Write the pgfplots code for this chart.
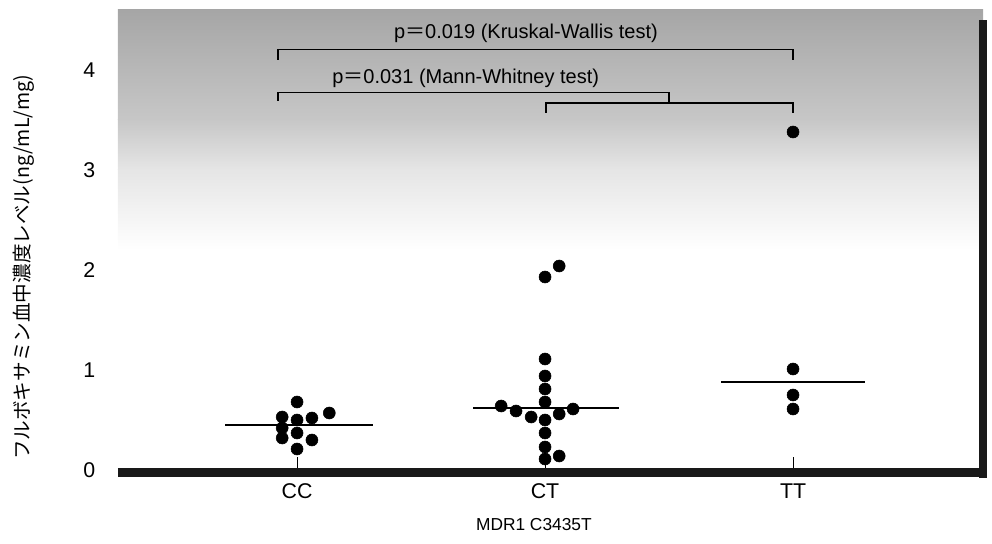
\documentclass[border=0pt]{standalone}
\usepackage{fontspec}
\setmainfont{Liberation Sans}
\newfontfamily\jp{Noto Sans CJK JP}
\usepackage{pgfplots}
\pgfplotsset{compat=1.18}
\begin{document}
\begin{tikzpicture}
\begin{axis}[
  scale only axis, width=648.75pt, height=345pt,
  xmin=0.278, xmax=3.766, ymin=0, ymax=4.6,
  axis x line*=bottom, axis y line*=left,
  x axis line style={draw=none}, y axis line style={draw=none},
  xtick={1,2,3}, xticklabels={CC,CT,TT},
  ytick={0,1,2,3,4},
  tick align=inside,
  major tick length=10pt,
  xtick style={black, line width=0.8pt},
  ytick style={draw=none},
  /pgf/number format/assume math mode=true,
  ticklabel style={font=\fontsize{16}{19}\selectfont},
  xticklabel style={yshift=-6.5pt},
  yticklabel style={xshift=-13.5pt},
  clip=false,
]
% scan-like grey at top
\shade[top color=black!35, bottom color=black!22, draw=none] (rel axis cs:0,1) rectangle (axis cs:3.766,3.5);
\shade[top color=black!22, bottom color=black!10, draw=none] (axis cs:0.278,3.5) rectangle (axis cs:3.766,3.0);
\shade[top color=black!10, bottom color=white, draw=none] (axis cs:0.278,3.0) rectangle (axis cs:3.766,2.2);
% thick axis bands
\draw[line width=6.75pt, black!90] (axis cs:0.278,-0.025) -- (axis cs:3.766,-0.025);
\draw[line width=6pt, black!90] (axis cs:3.766,-0.08) -- (axis cs:3.766,4.5);

% medians
\addplot[black, line width=1.3pt] coordinates {(0.71,0.45) (1.306,0.45)};
\addplot[black, line width=1.3pt] coordinates {(1.71,0.62) (2.30,0.62)};
\addplot[black, line width=1.3pt] coordinates {(2.71,0.88) (3.29,0.88)};

% CC
\addplot[only marks, mark=*, mark size=4.5pt, black] coordinates {
(1.00,0.68) (0.94,0.53) (1.00,0.50) (1.06,0.52) (1.13,0.57)
(0.94,0.42) (0.94,0.32) (1.00,0.37) (1.06,0.30) (1.00,0.21)};
% CT
\addplot[only marks, mark=*, mark size=4.5pt, black] coordinates {
(2.057,2.04) (2.00,1.93) (2.00,1.11) (2.00,0.94) (2.00,0.81) (2.00,0.68)
(1.823,0.64) (1.883,0.59) (1.944,0.53) (2.00,0.50) (2.057,0.56) (2.113,0.61)
(2.00,0.37) (2.00,0.23) (2.00,0.11) (2.057,0.14)};
% TT
\addplot[only marks, mark=*, mark size=4.5pt, black] coordinates {
(3,3.38) (3,1.01) (3,0.75) (3,0.61)};

% brackets
\draw[line width=1.2pt] (axis cs:0.923,4.10) -- (axis cs:0.923,4.205) -- (axis cs:3.0,4.205) -- (axis cs:3.0,4.10);
\draw[line width=1.2pt] (axis cs:0.923,3.69) -- (axis cs:0.923,3.775) -- (axis cs:2.50,3.775) -- (axis cs:2.50,3.68);
\draw[line width=1.2pt] (axis cs:2.004,3.57) -- (axis cs:2.004,3.67) -- (axis cs:3.0,3.67) -- (axis cs:3.0,3.57);
\node[font=\fontsize{15}{18}\selectfont, inner sep=0pt] at (axis cs:1.923,4.37) {p{\jp ＝}0.019 (Kruskal-Wallis test)};
\node[font=\fontsize{15}{18}\selectfont, inner sep=0pt] at (axis cs:1.68,3.92) {p{\jp ＝}0.031 (Mann-Whitney test)};

% labels
\node[font=\fontsize{13}{16}\selectfont, inner sep=0pt] at ([yshift=-41.25pt]axis cs:1.955,0) {MDR1 C3435T};
\node[font=\jp\fontsize{14.7}{17}\selectfont, rotate=90, inner sep=0pt] at ([xshift=-71pt]rel axis cs:0,0.441) {フルボキサミン血中濃度レベル(ng/mL/mg)};
% page extent
\path ([xshift=-88.5pt,yshift=-54.75pt]rel axis cs:0,0) rectangle ([xshift=6.75pt,yshift=7.5pt]rel axis cs:1,1);
\end{axis}
\end{tikzpicture}
\end{document}
